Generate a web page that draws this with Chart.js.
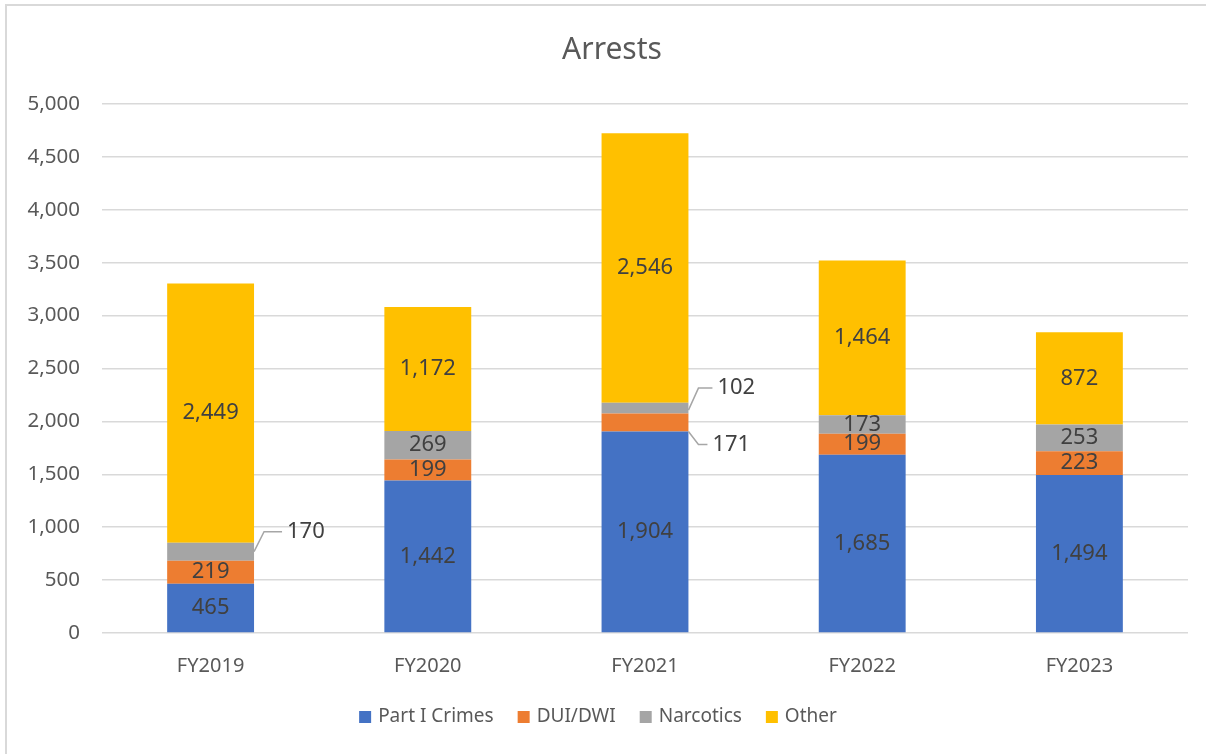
<!DOCTYPE html>
<html>
<head>
<meta charset="utf-8">
<script src="https://cdn.jsdelivr.net/npm/chart.js@4/dist/chart.umd.min.js"></script>
<style>
  html, body { margin: 0; padding: 0; background: #fff; }
  canvas { display: block; }
</style>
</head>
<body>
<canvas id="chartArrests" width="1206" height="754"></canvas>
<script>
// Arrests por ano fiscal
const categorias = ['FY2019', 'FY2020', 'FY2021', 'FY2022', 'FY2023'];
const partI = [465, 1442, 1904, 1685, 1494];
const duiDwi = [219, 199, 171, 199, 223];
const narcotics = [170, 269, 102, 173, 253];
const other = [2449, 1172, 2546, 1464, 872];
const yTicks = [0, 500, 1000, 1500, 2000, 2500, 3000, 3500, 4000, 4500, 5000];

const FONT = '"Noto Sans", sans-serif';
const TXT = '#595959';
const LBL = '#404040';

// rótulos que ficam fora da barra, com linha de chamada  (dataset-index)
const callouts = {
    '2-0': { dx: 33, dy: -20, ay: 0 },
    '2-2': { dx: 29, dy: -20, ay: 2 },
    '1-2': { dx: 24, dy: 22, ay: 9 }
};

const fmt = v => v.toLocaleString('en-US');

const extrasPlugin = {
    id: 'extras',
    beforeDraw(chart) {
        const ctx = chart.ctx;
        ctx.save();
        ctx.fillStyle = '#d9d9d9';
        ctx.fillRect(5, 4, 2, 750);
        ctx.fillRect(5, 4, 1201, 2);
        // título
        ctx.fillStyle = TXT;
        ctx.font = '30px ' + FONT;
        ctx.textAlign = 'center';
        ctx.textBaseline = 'middle';
        ctx.fillText('Arrests', 612, 50);
        ctx.restore();
    },
    afterDatasetsDraw(chart) {
        const ctx = chart.ctx;
        ctx.save();
        ctx.font = '22px ' + FONT;
        ctx.textBaseline = 'middle';
        chart.data.datasets.forEach((ds, di) => {
            const meta = chart.getDatasetMeta(di);
            meta.data.forEach((el, i) => {
                const txt = fmt(ds.data[i]);
                const cy = (el.y + el.base) / 2;
                const c = callouts[di + '-' + i];
                if (c) {
                    const x0 = el.x + el.width / 2;
                    const y0 = cy + c.ay;
                    const ly = cy + c.dy;
                    ctx.strokeStyle = '#a6a6a6';
                    ctx.lineWidth = 1.5;
                    ctx.beginPath();
                    ctx.moveTo(x0, y0);
                    ctx.lineTo(x0 + 10, ly);
                    ctx.lineTo(x0 + c.dx - 5, ly);
                    ctx.stroke();
                    ctx.fillStyle = LBL;
                    ctx.textAlign = 'left';
                    ctx.fillText(txt, x0 + c.dx, ly);
                } else {
                    ctx.fillStyle = LBL;
                    ctx.textAlign = 'center';
                    ctx.fillText(txt, el.x, cy);
                }
            });
        });
        // legenda
        ctx.font = '19px ' + FONT;
        ctx.textAlign = 'left';
        const items = chart.data.datasets.map(d => ({ label: d.label, color: d.backgroundColor }));
        const box = 12, gapBox = 7, gapItem = 24;
        const widths = items.map(it => box + gapBox + ctx.measureText(it.label).width);
        const total = widths.reduce((a, b) => a + b, 0) + gapItem * (items.length - 1);
        let x = 598 - total / 2;
        const ly = 717;
        items.forEach((it, k) => {
            ctx.fillStyle = it.color;
            ctx.fillRect(x, ly - box / 2, box, box);
            ctx.fillStyle = TXT;
            ctx.fillText(it.label, x + box + gapBox, ly);
            x += widths[k] + gapItem;
        });
        ctx.restore();
    }
};

const ctx = document.getElementById('chartArrests').getContext('2d');
new Chart(ctx, {
    type: 'bar',
    data: {
        labels: categorias,
        datasets: [
            { label: 'Part I Crimes', data: partI, backgroundColor: '#4472C4' },
            { label: 'DUI/DWI', data: duiDwi, backgroundColor: '#ED7D31' },
            { label: 'Narcotics', data: narcotics, backgroundColor: '#A5A5A5' },
            { label: 'Other', data: other, backgroundColor: '#FFC000' }
        ]
    },
    options: {
        responsive: false,
        animation: false,
        layout: { padding: { top: 104, right: 18, bottom: 61, left: 0 } },
        datasets: { bar: { categoryPercentage: 1, barPercentage: 0.4 } },
        plugins: {
            legend: { display: false },
            title: { display: false },
            tooltip: { enabled: false }
        },
        scales: {
            x: {
                stacked: true,
                grid: { display: false },
                border: { display: false },
                ticks: { color: TXT, font: { family: FONT, size: 20 }, padding: 13 },
                afterFit: s => { s.height = 60; }
            },
            y: {
                stacked: true,
                min: 0,
                max: 5000,
                afterBuildTicks: s => { s.ticks = yTicks.map(v => ({ value: v })); },
                grid: { color: '#d9d9d9', lineWidth: 1.5, drawTicks: false },
                border: { display: false },
                ticks: { color: TXT, font: { family: FONT, size: 20.5 }, padding: 22, callback: v => fmt(v) },
                afterFit: s => { s.width = 102; }
            }
        }
    },
    plugins: [extrasPlugin]
});
</script>
</body>
</html>
